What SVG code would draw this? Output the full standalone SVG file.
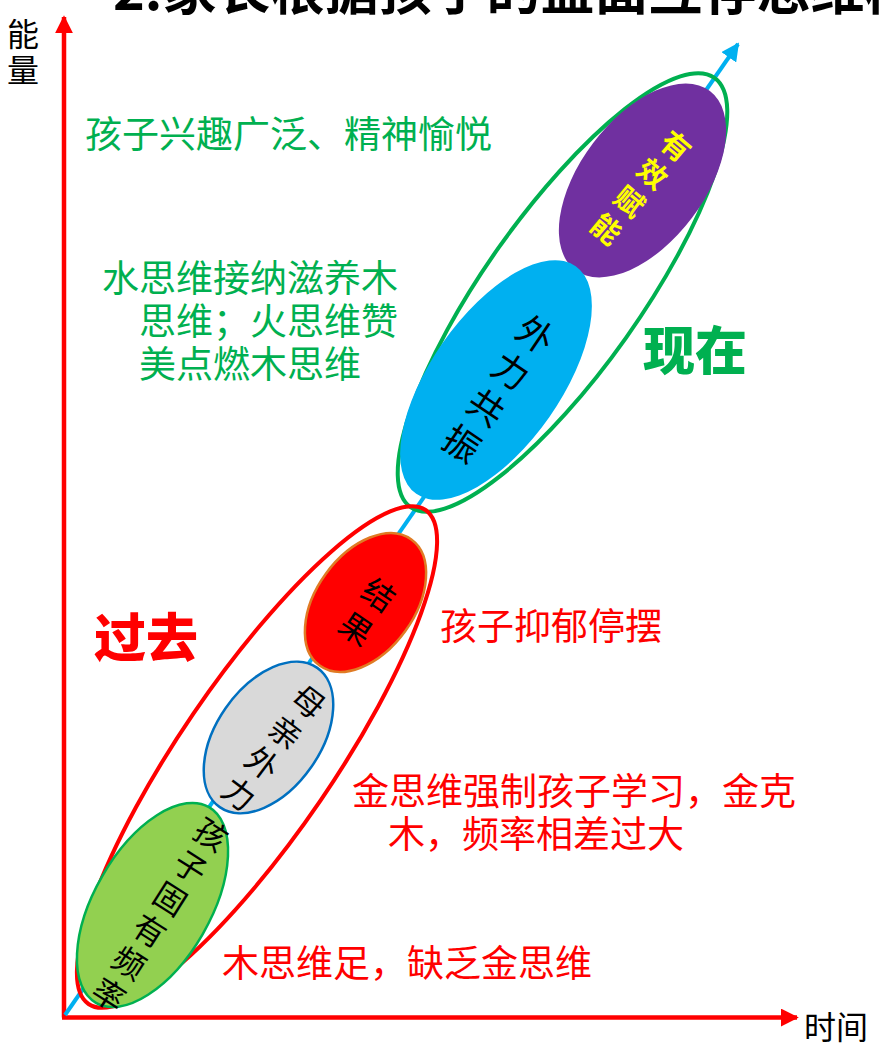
<svg xmlns="http://www.w3.org/2000/svg" width="879" height="1046" viewBox="0 0 879 1046">
<style>
text{font-family:"Noto Sans CJK SC","Noto Sans CJK JP",sans-serif}
.g{fill:#00B050;font-size:37px}
.r{fill:#FF0000;font-size:37px}
.blk{fill:#000;font-size:32px}
.nt{text-anchor:middle;dominant-baseline:central}
.big{font-weight:900;font-size:52px}
</style>
<defs>
<marker id="ar" viewBox="0 0 10 10" refX="9" refY="5" markerWidth="4" markerHeight="4" orient="auto" markerUnits="strokeWidth">
<path d="M0,0 L10,5 L0,10 z" fill="#FF0000"/>
</marker>
<marker id="ab" viewBox="0 0 10 10" refX="9" refY="5" markerWidth="4.5" markerHeight="4.5" orient="auto" markerUnits="strokeWidth">
<path d="M0,0 L10,5 L0,10 z" fill="#00B0F0"/>
</marker>
</defs>
<rect width="879" height="1046" fill="#fff"/>
<text x="113" y="10" font-size="54" font-weight="700" fill="#000">2.家长根据孩子的盘面互存思维模式</text>
<g id="axes">
<line x1="64" y1="1017.5" x2="64" y2="17" stroke="#FF0000" stroke-width="4.5" marker-end="url(#ar)"/>
<line x1="62" y1="1017.5" x2="797" y2="1017.5" stroke="#FF0000" stroke-width="4.5" marker-end="url(#ar)"/>
<text class="blk" x="23" y="46" text-anchor="middle">能</text>
<text class="blk" x="23" y="82" text-anchor="middle">量</text>
<text class="blk" x="804" y="1039" font-size="35">时间</text>
</g>
<g id="connectors">
<line x1="65" y1="1015" x2="738" y2="44" stroke="#00B0F0" stroke-width="4" marker-end="url(#ab)"/>
</g>
<g id="group-present">
<ellipse cx="0" cy="0" rx="78" ry="263" transform="translate(562.5,292.5) rotate(35.3)" fill="none" stroke="#00B050" stroke-width="4"/>
</g>
<g id="group-past">
<ellipse cx="0" cy="0" rx="77" ry="299" transform="translate(257,757) rotate(34.3)" fill="none" stroke="#FF0000" stroke-width="4"/>
</g>
<g id="node-youxiao">
<ellipse cx="0" cy="0" rx="62" ry="112" transform="translate(642.5,180.5) rotate(37)" fill="#7030A0"/>
<g transform="translate(642.5,186) rotate(40)" fill="#FFFF00" font-size="29" font-weight="700">
<text class="nt" x="0" y="-54">有</text><text class="nt" x="0" y="-18">效</text><text class="nt" x="0" y="18">赋</text><text class="nt" x="0" y="54">能</text>
</g>
</g>
<g id="node-waili">
<ellipse cx="0" cy="0" rx="65" ry="139" transform="translate(496,380) rotate(35)" fill="#00B0F0"/>
<g transform="translate(500,387) rotate(34)" fill="#000" font-size="36">
<text class="nt" x="0" y="-66">外</text><text class="nt" x="0" y="-22">力</text><text class="nt" x="0" y="22">共</text><text class="nt" x="0" y="66">振</text>
</g>
</g>
<g id="node-jieguo">
<ellipse cx="0" cy="0" rx="49" ry="78" transform="translate(365.5,602.5) rotate(36)" fill="#FF0000" stroke="#E07B24" stroke-width="2.5"/>
<g transform="translate(368.5,610) rotate(34)" fill="#000" font-size="32">
<text class="nt" x="0" y="-20.5">结</text><text class="nt" x="0" y="20.5">果</text>
</g>
</g>
<g id="node-muqin">
<ellipse cx="0" cy="0" rx="52" ry="85" transform="translate(268.5,737.5) rotate(35)" fill="#D9D9D9" stroke="#0070C0" stroke-width="2.5"/>
<g transform="translate(275,746) rotate(37)" fill="#000" font-size="32">
<text class="nt" x="0" y="-57.75">母</text><text class="nt" x="0" y="-19.25">亲</text><text class="nt" x="0" y="19.25">外</text><text class="nt" x="0" y="57.75">力</text>
</g>
</g>
<g id="node-haizi">
<ellipse cx="0" cy="0" rx="58" ry="113" transform="translate(152.5,905) rotate(30)" fill="#92D050" stroke="#00B050" stroke-width="2.5"/>
<g transform="translate(161,913) rotate(32.5)" fill="#000" font-size="32">
<text class="nt" x="0" y="-95">孩</text><text class="nt" x="0" y="-57">子</text><text class="nt" x="0" y="-19">固</text><text class="nt" x="0" y="19">有</text><text class="nt" x="0" y="57">频</text><text class="nt" x="0" y="95">率</text>
</g>
</g>
<g id="labels">
<text class="g" x="85" y="148">孩子兴趣广泛、精神愉悦</text>
<text class="g" x="102" y="292">水思维接纳滋养木</text>
<text class="g" x="139" y="335">思维；火思维赞</text>
<text class="g" x="139" y="378">美点燃木思维</text>
<text class="big" x="643" y="370" fill="#00B050">现在</text>
<text class="big" x="94" y="657" fill="#FF0000">过去</text>
<text class="r" x="440" y="640">孩子抑郁停摆</text>
<text class="r" x="352" y="805">金思维强制孩子学习，金克</text>
<text class="r" x="388" y="848">木，频率相差过大</text>
<text class="r" x="222" y="977">木思维足，缺乏金思维</text>
</g>
</svg>
